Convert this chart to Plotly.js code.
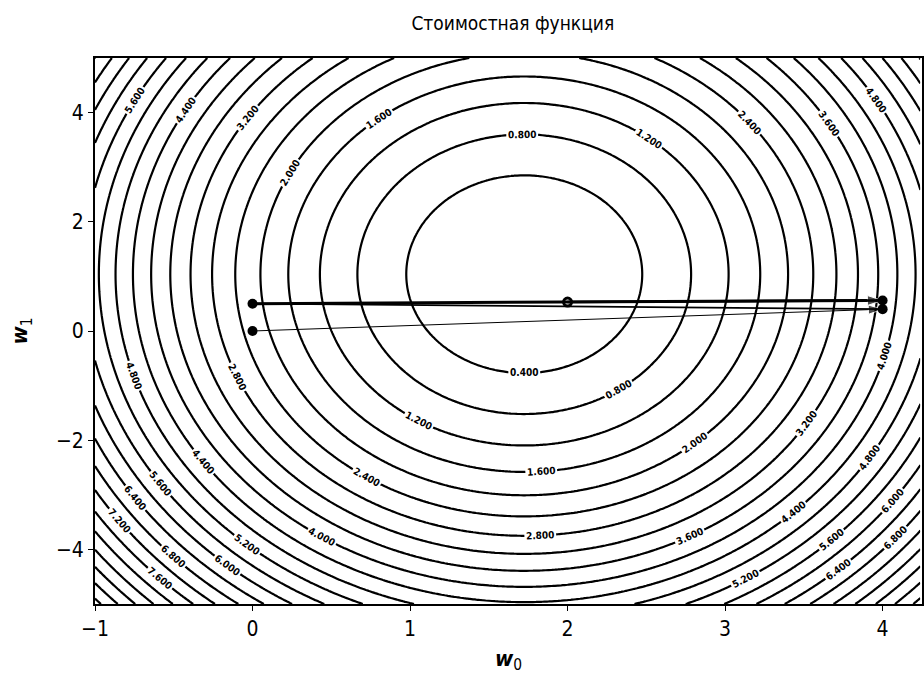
<!DOCTYPE html>
<html>
<head>
<meta charset="utf-8">
<script src="https://cdn.plot.ly/plotly-3.0.1.min.js"></script>
<style>html,body{margin:0;padding:0;background:#fff;}#chart{width:924px;height:678px;}</style>
</head>
<body>
<div id="chart"></div>
<script>
// Cost surface parameters (centre and curvature of the elliptic bowl)
var costCenter = [1.725, 1.04];      // w0*, w1*
var costCurvature = [0.713, 0.122];  // coefficient on (w0-w0*)^2, (w1-w1*)^2
var costMinimum = [0.0];

// Contour levels (as labelled in the picture)
var levelStart = [0.4];
var levelEnd = [10.0];
var levelStep = [0.4];

// Gradient-descent path
var pathW0 = [0, 4, 0, 4, 2];
var pathW1 = [0, 0.40, 0.50, 0.56, 0.53];

// Axis ticks
var xTicks = [-1, 0, 1, 2, 3, 4];
var yTicks = [-4, -2, 0, 2, 4];

// Sampling of the surface
var w0Axis = [], w1Axis = [];
for (var i = 0; i <= 262; i++) w0Axis.push(-1 + i * 0.02);
for (var j = 0; j <= 250; j++) w1Axis.push(-5 + j * 0.04);
var zGrid = w1Axis.map(function (b) {
  return w0Axis.map(function (a) {
    return costMinimum[0] + costCurvature[0] * Math.pow(a - costCenter[0], 2) +
           costCurvature[1] * Math.pow(b - costCenter[1], 2);
  });
});

var FONT = '"Liberation Sans Narrow", "Arial Narrow", "DejaVu Sans Condensed", "Roboto Condensed", "Liberation Sans", Arial, sans-serif';

var traces = [{
  type: 'contour',
  x: w0Axis, y: w1Axis, z: zGrid,
  autocontour: false,
  contours: {
    start: levelStart[0], end: levelEnd[0], size: levelStep[0],
    coloring: 'lines', showlabels: true,
    labelformat: '.3f',
    labelfont: {family: FONT, size: 10, color: '#000', weight: 'bold'}
  },
  colorscale: [[0, '#000'], [1, '#000']],
  showscale: false,
  line: {width: 2.2, color: '#000', smoothing: 1},
  hoverinfo: 'skip'
}];

// path segments, each ending in an arrowhead (or none)
var segWidths = [1, 1.8, 3, 2.5];
var segHeadSize = [15, 0, 16, 0];
var nPts = pathW0.length;
for (var k = 0; k < nPts - 1; k++) {
  traces.push({
    type: 'scatter', mode: 'lines+markers',
    x: [pathW0[k], pathW0[k + 1]], y: [pathW1[k], pathW1[k + 1]],
    line: {color: '#000', width: segWidths[k]},
    marker: {symbol: ['circle', 'arrow'], size: [0, segHeadSize[k]], color: '#000', angleref: 'previous'},
    hoverinfo: 'skip'
  });
}

// markers at the visited points (last one drawn as a ring)
traces.push({
  type: 'scatter', mode: 'markers',
  x: pathW0.slice(0, nPts - 1), y: pathW1.slice(0, nPts - 1),
  marker: {symbol: 'circle', size: 10, color: '#000'},
  hoverinfo: 'skip'
});
traces.push({
  type: 'scatter', mode: 'markers',
  x: [pathW0[nPts - 1]], y: [pathW1[nPts - 1]],
  marker: {symbol: 'circle-open', size: 8, color: '#000', line: {width: 3, color: '#000'}},
  hoverinfo: 'skip'
});

var layout = {
  width: 924, height: 678,
  margin: {l: 95, r: 2, t: 58, b: 74},
  paper_bgcolor: '#fff', plot_bgcolor: '#fff',
  showlegend: false,
  title: {text: 'Стоимостная функция', x: 0.555, xanchor: 'center', y: 0.966, yanchor: 'middle',
          font: {family: FONT, size: 19, color: '#000'}},
  xaxis: {
    range: [-1, 4.25], tickvals: xTicks, ticks: 'outside', ticklen: 5, tickcolor: '#000',
    showline: true, linecolor: '#000', linewidth: 2, mirror: true, showgrid: false, zeroline: false,
    tickfont: {family: FONT, size: 21, color: '#000'},
    title: {text: '<b><i>w</i></b><sub>0</sub>', font: {family: FONT, size: 22, color: '#000'}, standoff: 10}
  },
  yaxis: {
    range: [-5, 5], tickvals: yTicks, ticks: 'outside', ticklen: 5, tickcolor: '#000',
    showline: true, linecolor: '#000', linewidth: 2, mirror: true, showgrid: false, zeroline: false,
    tickfont: {family: FONT, size: 21, color: '#000'},
    title: {text: '<b><i>w</i></b><sub>1</sub>', font: {family: FONT, size: 22, color: '#000'}, standoff: 22}
  }
};

Plotly.newPlot('chart', traces, layout, {displayModeBar: false, staticPlot: true});
</script>
</body>
</html>
